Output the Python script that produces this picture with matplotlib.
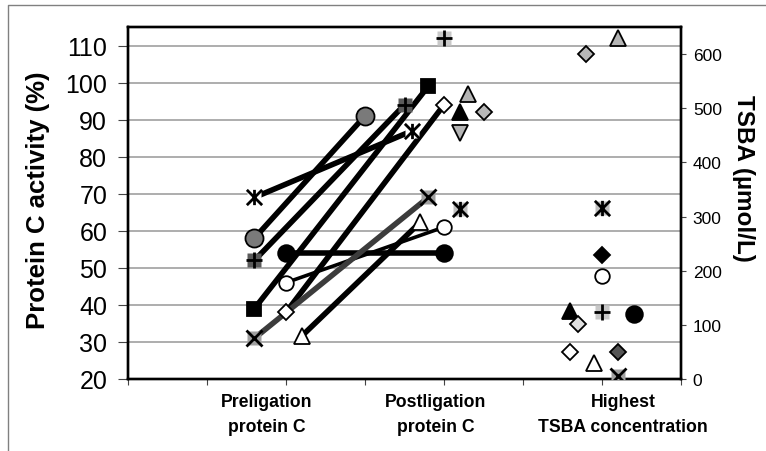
import numpy as np
import matplotlib
matplotlib.use('Agg')
import matplotlib.pyplot as plt
from matplotlib.path import Path
from matplotlib.lines import Line2D

plt.rcParams['font.family'] = ['Liberation Sans', 'DejaVu Sans']

nan = np.nan
# ---- data (one entry per patient series) ----
pre_x   = [1.6, 1.6, 1.6, 2.0, 2.0, 1.6, 2.0, 1.6, 2.2, nan, nan, nan, nan, nan, nan, nan, nan, nan]
pre_pc  = [69, 58, 52, 54, 46, 39, 38, 31, 31.6, nan, nan, nan, nan, nan, nan, nan, nan, nan]
post_x  = [3.6, 3.0, 3.5, 4.0, 4.0, 3.8, 4.0, 3.8, 3.7, 4.0, 4.3, 4.2, 4.5, 4.2, 4.2, nan, nan, nan]
post_pc = [87, 91, 94, 54, 61, 99, 94, 69, 62.3, 112, 97, 92, 92, 86.5, 66, nan, nan, nan]
tsba_x  = [nan, nan, nan, 6.4, 6.0, nan, 5.6, 6.2, 5.9, 6.0, 6.2, 5.6, 5.8, nan, 6.0, 6.0, 5.7, 6.2]
tsba    = [nan, nan, nan, 120, 191, nan, 50, 6, 29, 123, 629, 126, 600, nan, 315, 229, 101, 50]

pc_ticks = [20, 30, 40, 50, 60, 70, 80, 90, 100, 110]
tsba_ticks = [0, 100, 200, 300, 400, 500, 600]
group_labels = [("Preligation", "protein C"), ("Postligation", "protein C"),
                ("Highest", "TSBA concentration")]
ylabel_left = "Protein C activity (%)"
ylabel_right = "TSBA (\u00b5mol/L)"

# ---- styles ----
AST = Path([(0, -1), (0, 1), (-1, -1), (1, 1), (-1, 1), (1, -1)],
           [Path.MOVETO, Path.LINETO] * 3)
styles = [
    dict(m=AST, bg='white'),
    dict(m='o', fc='#7a7a7a', ms=13),
    dict(m='+', bg='#5a5a5a'),
    dict(m='o', fc='black', ms=12),
    dict(m='o', fc='white', ms=10.5),
    dict(m='s', fc='black', ms=10.5),
    dict(m='D', fc='white', ms=8.5),
    dict(m='x', bg='#a0a0a0'),
    dict(m='^', fc='white', ms=11),
    dict(m='+', bg='#c8c8c8'),
    dict(m='^', fc='#b4b4b4', ms=11),
    dict(m='^', fc='black', ms=11),
    dict(m='D', fc='#b8b8b8', ms=8),
    dict(m='v', fc='#b4b4b4', ms=11),
    dict(m=AST, bg='#c0c0c0'),
    dict(m='D', fc='black', ms=8.5),
    dict(m='D', fc='#e0e0e0', ms=8.5),
    dict(m='D', fc='#555555', ms=8),
]
line_color = ['black'] * 7 + ['#3c3c3c'] + ['black'] * 10
line_width = [4, 4, 4, 4, 2.6, 4, 4, 4, 4] + [4] * 9

W, H = 766, 452
fig = plt.figure(figsize=(W / 100, H / 100), dpi=100)
L, R, T, B = 128, 681, 28, 380
ax = fig.add_axes([L / W, 1 - B / H, (R - L) / W, (B - T) / H])
ax2 = ax.twinx()

ax.set_xlim(0, 7)
ax.set_ylim(20, 115)
ax2.set_ylim(0, 650)
ax.set_xticks(range(8))
ax.set_xticklabels([])
ax.set_yticks(pc_ticks)
ax2.set_yticks(tsba_ticks)
ax.yaxis.grid(True, color='#a0a0a0', lw=1.2)
ax.set_axisbelow(True)

ax.tick_params(axis='y', labelsize=18, length=7, pad=8, width=0.8, color='#444444')
ax.tick_params(axis='x', length=4, width=0.8, color='#444444')
ax2.tick_params(axis='y', labelsize=12.5, length=3.5, pad=5, width=0.8, color='#444444')
for a in (ax, ax2):
    for s in a.spines.values():
        s.set_linewidth(1.7)
        s.set_color('black')


def draw_marker(a, x, y, st):
    if np.isnan(x) or np.isnan(y):
        return
    if 'bg' in st:
        a.plot([x], [y], ls='none', marker='s', ms=10.5, mfc=st['bg'], mec='none', zorder=5)
        a.plot([x], [y], ls='none', marker=st['m'], ms=11, mec='black', mew=2, zorder=6)
    else:
        a.plot([x], [y], ls='none', marker=st['m'], ms=st['ms'], mfc=st['fc'],
               mec='black', mew=1.3, zorder=6)


for i, st in enumerate(styles):
    if not (np.isnan(pre_pc[i]) or np.isnan(post_pc[i])):
        ax.plot([pre_x[i], post_x[i]], [pre_pc[i], post_pc[i]], color=line_color[i],
                lw=line_width[i], solid_capstyle='butt', zorder=3)
    draw_marker(ax, pre_x[i], pre_pc[i], st)
    draw_marker(ax, post_x[i], post_pc[i], st)
    draw_marker(ax2, tsba_x[i], tsba[i], st)

fig.text(38 / W, 1 - 200 / H, ylabel_left, rotation=90, fontsize=18.5,
         fontweight='bold', ha='center', va='center')
fig.text(743 / W, 1 - 178 / H, ylabel_right, rotation=270, fontsize=17.5,
         fontweight='bold', ha='center', va='center')

label_cx = [267, 436, 623]
for cx, (l1, l2) in zip(label_cx, group_labels):
    fig.text(cx / W, 1 - 403 / H, l1, fontsize=12.7, fontweight='bold', ha='center', va='center')
    fig.text(cx / W, 1 - 428 / H, l2, fontsize=12.7, fontweight='bold', ha='center', va='center')

fig.add_artist(Line2D([7.5 / W, 7.5 / W, 1], [0, 1 - 5.5 / H, 1 - 5.5 / H],
                      transform=fig.transFigure, color='#808080', lw=1))

fig.savefig('out.png', dpi=100)
